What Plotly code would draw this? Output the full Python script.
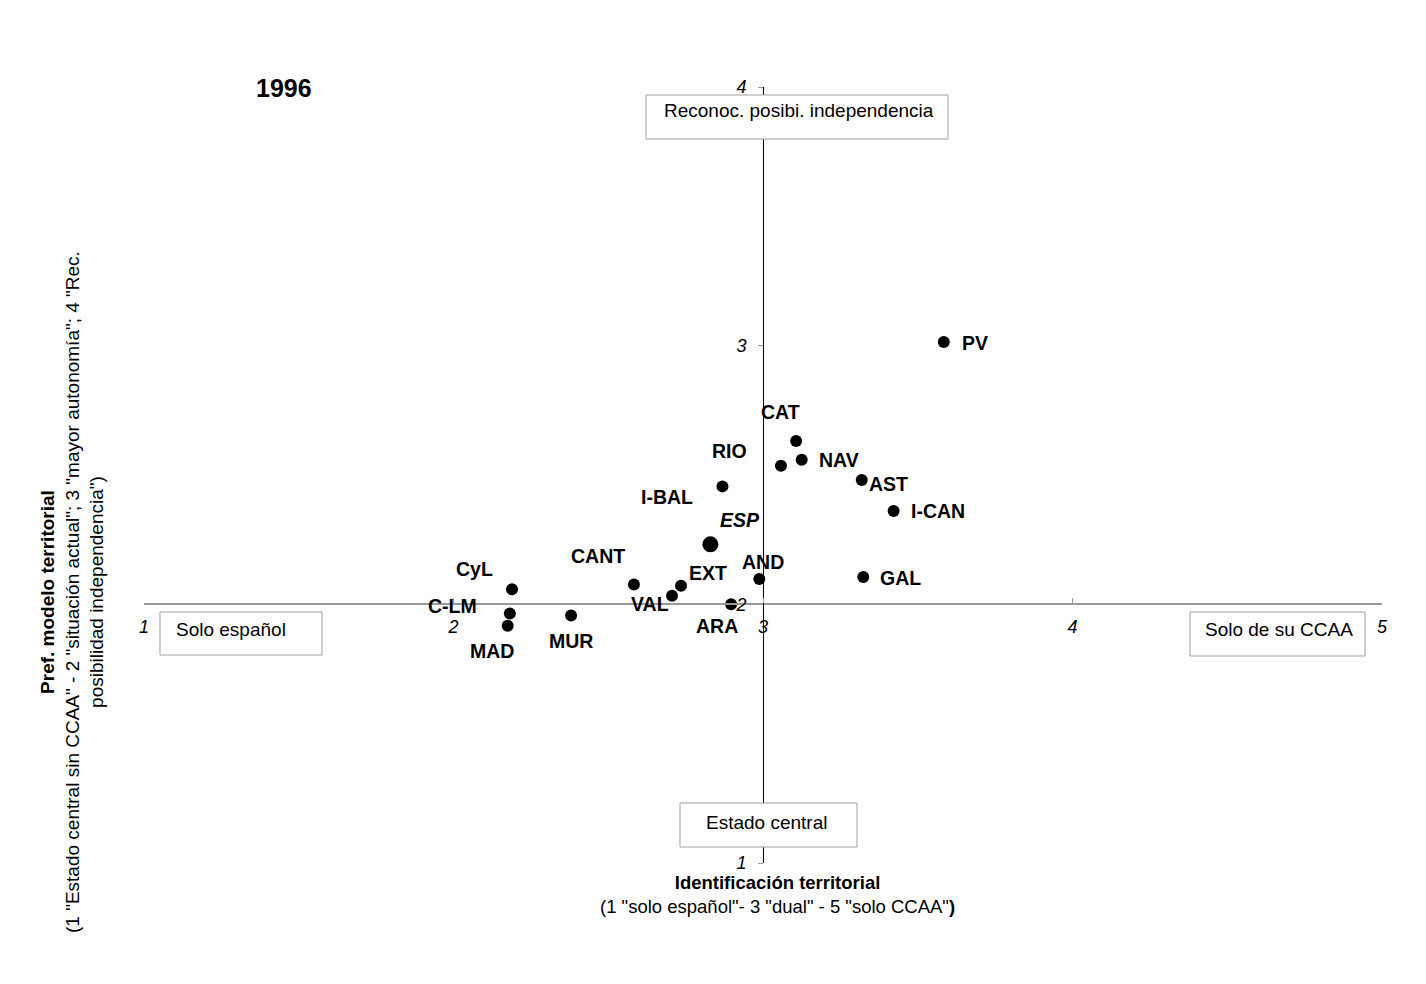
import plotly.graph_objects as go

# Comunidades autonomas, 1996
regions = ["PV", "CAT", "NAV", "RIO", "AST", "I-CAN", "I-BAL", "GAL", "AND",
           "EXT", "CANT", "VAL", "ARA", "CyL", "C-LM", "MAD", "MUR"]
ident = [3.584, 3.107, 3.125, 3.058, 3.319, 3.422, 2.869, 3.324, 2.988,
         2.735, 2.583, 2.706, 2.897, 2.189, 2.182, 2.175, 2.380]
pref = [3.014, 2.631, 2.559, 2.536, 2.481, 2.361, 2.456, 2.106, 2.098,
        2.072, 2.077, 2.033, 2.000, 2.058, 1.965, 1.917, 1.957]

# Espana (media)
esp_label = "ESP"
esp_ident = [2.830]
esp_pref = [2.232]

x_ticks = [1, 2, 3, 4, 5]
y_ticks = [1, 2, 3, 4]

# label placement (px offsets from the point)
label_offsets = [(31, 1), (-16, -29), (37, 0), (-51, -15), (27, 4), (44, 0),
                 (-55, 11), (37, 1), (4, -17), (27, -13), (-36, -28), (-22, 8),
                 (-14, 22), (-38, -20), (-57, -7), (-16, 25), (0, 26)]
esp_offset = (30, -24)

FONT = "Liberation Sans, Arial, sans-serif"

# page has an 8px body margin, so shift everything back by that
OFF = 8
W, H = 1426, 984
L, R, T, B = 144 - OFF, 44 + OFF, 87 - OFF, 121 + OFF
PW, PH = W - L - R, H - T - B


def px(x):
    # screenshot pixel -> paper x
    return (x - OFF - L) / PW


def py(y):
    # screenshot pixel -> paper y
    return (H - B - (y - OFF)) / PH


fig = go.Figure()

fig.add_trace(go.Scatter(
    x=ident, y=pref, mode="markers",
    marker=dict(color="black", size=12),
    hoverinfo="text", text=regions, showlegend=False, cliponaxis=False))

fig.add_trace(go.Scatter(
    x=esp_ident, y=esp_pref, mode="markers",
    marker=dict(color="black", size=16),
    hoverinfo="text", text=[esp_label], showlegend=False, cliponaxis=False))

annotations = []
for name, xv, yv, (dx, dy) in zip(regions, ident, pref, label_offsets):
    annotations.append(dict(
        x=xv, y=yv, xref="x", yref="y", text="<b>%s</b>" % name, showarrow=False,
        xanchor="center", yanchor="middle",
        xshift=dx, yshift=-dy, font=dict(family=FONT, size=19.5, color="black")))
annotations.append(dict(
    x=esp_ident[0], y=esp_pref[0], xref="x", yref="y",
    text="<b><i>%s</i></b>" % esp_label, showarrow=False,
    xanchor="center", yanchor="middle",
    xshift=esp_offset[0], yshift=-esp_offset[1],
    font=dict(family=FONT, size=19.5, color="black")))

# text boxes: (text, box x0, x1, y0, y1, text x, text y, anchor) in screenshot px
boxes = [
    ("Reconoc. posibi. independencia", 646, 948, 95, 139, 799, 110, "center"),
    ("Solo español", 160, 322, 612, 655, 174, 629, "left"),
    ("Solo de su CCAA", 1190, 1365, 612, 656, 1355, 629, "right"),
    ("Estado central", 680, 857, 803, 847, 766, 822, "center"),
]
shapes = []
for text, x0, x1, y0, y1, tx, ty, anchor in boxes:
    shapes.append(dict(type="rect", xref="paper", yref="paper",
                       x0=px(x0), x1=px(x1), y0=py(y1), y1=py(y0),
                       line=dict(color="#a0a0a0", width=1), fillcolor="white",
                       layer="above"))
    annotations.append(dict(text=text, x=px(tx), y=py(ty), xref="paper", yref="paper",
                            xanchor=anchor, yanchor="middle", showarrow=False,
                            font=dict(family=FONT, size=19, color="black")))

annotations.append(dict(text="<b>1996</b>", x=px(284), y=py(88), xref="paper", yref="paper",
                        xanchor="center", yanchor="middle", showarrow=False,
                        font=dict(family=FONT, size=25, color="black")))

annotations.append(dict(
    text="<b>Identificación territorial</b><br>"
         "(1 \"solo español\"- 3 \"dual\" - 5 \"solo CCAA\"<b>)</b>",
    x=px(777), y=py(894), xref="paper", yref="paper", showarrow=False,
    xanchor="center", yanchor="middle",
    font=dict(family=FONT, size=18.5, color="black")))

annotations.append(dict(
    text="<b>Pref. modelo territorial</b><br>"
         "(1 \"Estado central sin CCAA\" - 2 \"situación actual\"; 3 \"mayor autonomía\"; 4 \"Rec.<br>"
         "posibilidad independencia\")",
    x=px(72), y=py(592), xref="paper", yref="paper", showarrow=False, textangle=-90,
    xanchor="center", yanchor="middle",
    font=dict(family=FONT, size=19, color="black")))

fig.update_layout(
    width=W, height=H,
    margin=dict(l=L, r=R, t=T, b=B),
    paper_bgcolor="white", plot_bgcolor="white",
    font=dict(family=FONT, color="black"),
    showlegend=False,
    annotations=annotations,
    shapes=shapes,
    xaxis=dict(range=[1, 5], tickvals=x_ticks, anchor="free", position=1 / 3,
               showline=True, linecolor="#999999", linewidth=2,
               ticks="inside", ticklen=5, tickcolor="#999999",
               showgrid=False, zeroline=False, ticklabelstandoff=6,
               tickfont=dict(family=FONT, size=18, style="italic", color="black")),
    yaxis=dict(range=[1, 4], tickvals=y_ticks, anchor="free", position=0.5,
               showline=True, linecolor="black", linewidth=1,
               ticks="outside", ticklen=5, tickcolor="#999999",
               showgrid=False, zeroline=False, ticklabelstandoff=8,
               tickfont=dict(family=FONT, size=18, style="italic", color="black")),
)

fig.write_html("out.html")
